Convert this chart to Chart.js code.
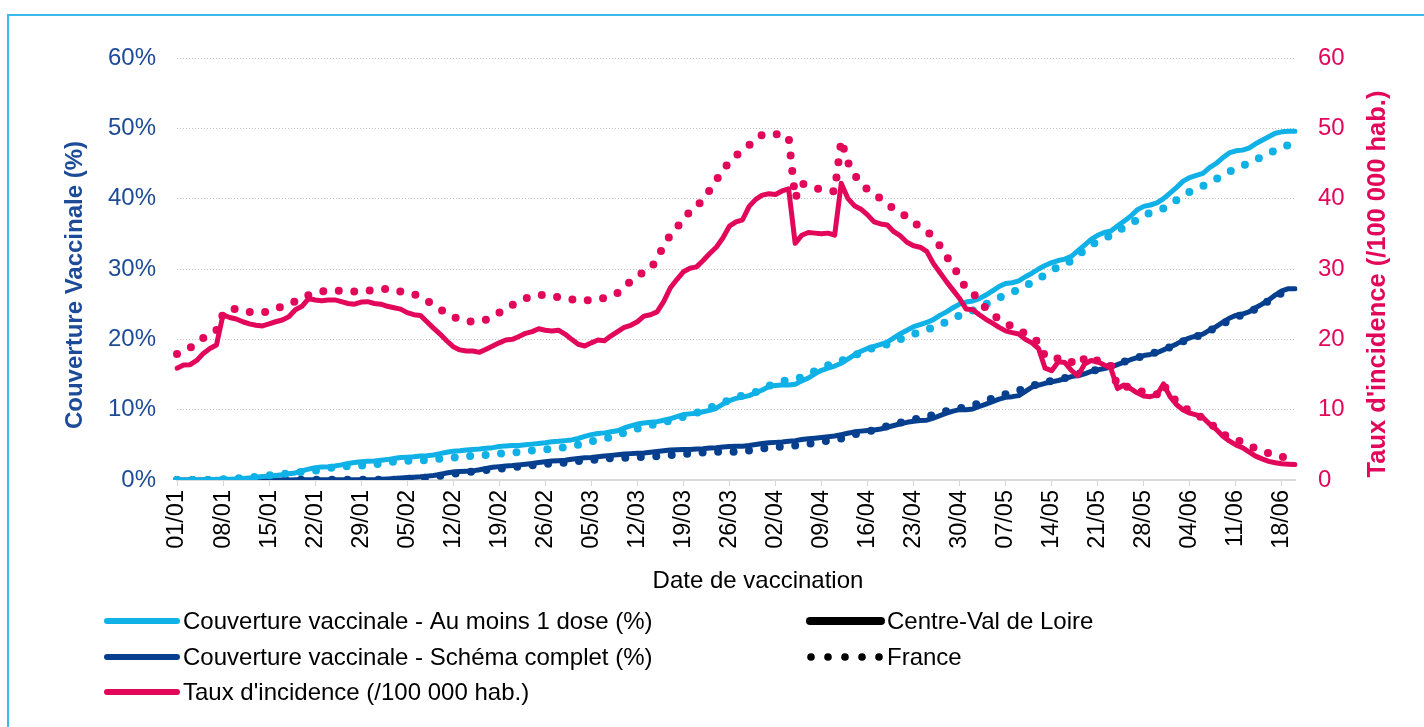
<!DOCTYPE html>
<html><head><meta charset="utf-8">
<script src="https://cdn.jsdelivr.net/npm/chart.js@4.4.1/dist/chart.umd.min.js"></script>
<style>
html,body{margin:0;padding:0;background:#fff;width:1424px;height:727px;overflow:hidden;}
#frame{position:absolute;left:7px;top:14px;width:1440px;height:800px;border:2px solid #3cb9ec;box-sizing:border-box;}
#wrap{position:absolute;left:0;top:0;width:1424px;height:727px;}
</style></head><body>
<div id="frame"></div>
<div id="wrap"><canvas id="c"></canvas></div>
<script>
// ---- categories: daily dates from 01/01 to 20/06 ----
const dates = [];
for (let i = 0; i < 171; i++) {
  const d = new Date(2021, 0, 1 + i);
  dates.push(String(d.getDate()).padStart(2, '0') + '/' + String(d.getMonth() + 1).padStart(2, '0'));
}
const tickEvery = 7;

// ---- Taux d'incidence (/100 000 hab.) ----
const incidenceCVL = [
15.9,16.35,16.4,17.0,18.0,18.7,19.2,23.5,23.1,22.9,
22.5,22.2,22.0,21.9,22.2,22.5,22.75,23.2,24.2,24.7,
25.8,25.6,25.5,25.6,25.6,25.35,25.1,25.0,25.3,25.35,
25.1,25.0,24.7,24.5,24.3,23.8,23.5,23.4,22.5,21.6,
20.75,19.8,18.95,18.5,18.35,18.35,18.15,18.6,19.05,19.5,
19.9,20.0,20.4,20.85,21.1,21.5,21.3,21.2,21.3,20.75,
20.0,19.3,19.05,19.5,19.9,19.8,20.5,21.1,21.7,22.0,
22.5,23.3,23.5,23.9,25.35,27.3,28.5,29.6,30.1,30.3,
31.2,32.2,33.1,34.4,36.1,36.7,37.0,38.9,39.9,40.5,
40.7,40.6,41.1,41.4,33.65,34.8,35.2,35.1,35.0,35.1,
34.8,42.2,40.05,39.0,38.5,37.7,36.7,36.4,36.25,35.3,
34.7,33.8,33.3,33.1,32.5,30.8,29.5,28.2,27.0,25.8,
24.3,24.2,23.5,22.85,22.3,21.7,21.2,20.95,20.75,20.0,
19.5,18.7,15.9,15.55,16.8,16.7,15.6,14.8,16.5,17.0,
16.8,16.35,15.9,13.0,13.5,13.0,12.4,11.95,11.85,12.1,
13.65,11.85,10.7,9.95,9.5,9.25,8.9,7.95,7.2,6.25,
5.55,5.0,4.6,4.0,3.4,3.0,2.65,2.45,2.3,2.25,
2.2];
const incidenceFR = [
17.9,18.3,18.8,19.4,20.2,20.8,21.3,23.6,24.4,24.3,
24.0,23.9,23.8,23.8,24.0,24.3,24.7,25.0,25.4,25.8,
26.3,26.6,26.8,26.9,26.9,26.9,26.8,26.8,26.8,26.9,
27.0,27.1,27.2,27.0,26.8,26.6,26.4,26.1,25.5,24.9,
24.3,23.7,23.2,22.8,22.6,22.5,22.6,22.8,23.2,23.8,
24.5,24.9,25.3,25.8,26.2,26.3,26.3,26.1,26.0,25.9,
25.7,25.5,25.5,25.6,25.7,25.9,26.1,26.6,27.4,28.3,
29.0,29.6,30.0,31.5,33.3,34.8,35.9,37.0,38.2,38.8,
40.0,41.2,42.6,44.1,45.2,46.1,47.0,47.6,48.5,49.1,
49.3,49.2,49.0,48.8,40.0,42.2,41.8,41.5,41.3,41.2,
41.0,48.3,45.2,43.4,42.2,41.3,40.7,40.0,39.2,38.6,
38.0,37.4,36.6,36.0,35.4,34.5,33.3,31.8,30.5,28.8,
27.2,26.6,25.5,24.4,23.6,22.8,22.3,21.8,21.3,20.8,
20.2,19.6,17.6,17.2,17.3,17.4,16.8,16.3,17.3,17.6,
16.9,16.5,16.3,13.3,13.3,13.2,12.8,12.5,12.3,12.2,
13.6,12.0,11.2,10.4,9.8,9.3,8.8,8.1,7.4,6.6,
6.0,5.7,5.4,4.9,4.5,4.2,3.8,3.5,3.3,3.2];

// ---- Couverture vaccinale - Au moins 1 dose (%) ----
const dose1CVL = [
0,0,0,0,0.05,0.05,0.1,0.1,0.1,0.15,
0.2,0.3,0.4,0.5,0.55,0.65,0.75,0.9,1.0,1.3,
1.55,1.75,1.85,1.9,2.0,2.15,2.35,2.5,2.6,2.65,
2.7,2.8,2.9,3.05,3.2,3.25,3.3,3.4,3.45,3.55,
3.75,3.95,4.1,4.15,4.25,4.35,4.4,4.5,4.6,4.75,
4.85,4.9,4.9,5.0,5.1,5.2,5.3,5.45,5.5,5.6,
5.7,5.9,6.2,6.45,6.6,6.7,6.85,7.0,7.4,7.7,
7.95,8.1,8.2,8.3,8.5,8.7,9.0,9.3,9.4,9.5,
9.7,9.9,10.2,10.8,11.3,11.6,11.8,12.0,12.4,12.8,
13.3,13.45,13.5,13.5,13.6,14.1,14.5,15.1,15.6,15.9,
16.2,16.6,17.2,17.8,18.3,18.7,19.0,19.3,19.6,20.2,
20.8,21.3,21.8,22.1,22.4,22.8,23.4,23.9,24.5,25.0,
25.3,25.45,25.8,26.3,26.9,27.5,27.95,28.05,28.3,28.9,
29.4,30.0,30.5,30.9,31.2,31.4,31.8,32.6,33.4,34.2,
34.8,35.2,35.4,36.1,36.8,37.5,38.4,38.9,39.1,39.4,
40.0,40.8,41.6,42.5,43.0,43.3,43.6,44.4,45.0,45.8,
46.5,46.8,46.9,47.2,47.8,48.3,48.8,49.3,49.5,49.6,
49.6];
const dose1FR = [
0,0,0,0,0,0,0.05,0.1,0.15,0.2,
0.3,0.35,0.45,0.55,0.65,0.75,0.85,0.95,1.05,1.15,
1.25,1.35,1.45,1.65,1.85,1.9,1.95,2.0,2.05,2.1,
2.2,2.35,2.5,2.6,2.7,2.75,2.75,2.75,2.85,2.95,
3.05,3.1,3.2,3.25,3.35,3.45,3.5,3.55,3.65,3.75,
3.85,3.9,4.0,4.1,4.2,4.25,4.35,4.45,4.55,4.65,
4.85,5.0,5.25,5.5,5.7,5.9,6.1,6.4,6.7,6.95,
7.3,7.65,7.8,7.95,8.2,8.45,8.75,9.0,9.25,9.55,
9.9,10.25,10.6,11.0,11.35,11.75,12.0,12.25,12.5,13.0,
13.4,13.7,14.05,14.25,14.4,14.6,15.0,15.5,15.9,16.3,
16.6,16.95,17.3,17.7,18.1,18.5,18.85,19.05,19.3,19.6,
20.0,20.4,20.75,21.1,21.4,21.7,22.1,22.5,23.0,23.4,
23.7,24.1,24.5,25.0,25.45,25.9,26.35,26.7,27.1,27.6,
28.1,28.6,29.2,29.8,30.3,30.6,31.2,31.9,32.7,33.4,
33.9,34.3,34.8,35.4,35.9,36.4,37.0,37.6,38.0,38.3,
38.6,39.2,39.8,40.4,41.0,41.5,41.8,42.3,42.8,43.2,
43.8,44.3,44.7,45.0,45.5,46.0,46.4,46.9,47.3,47.6];

// ---- Couverture vaccinale - Schéma complet (%) ----
const dose2CVL = [
0,0,0,0,0,0,0,0,0,0,
0,0,0,0,0,0,0,0,0.05,0.05,
0.05,0.05,0.05,0.05,0.05,0.05,0.05,0.05,0.05,0.05,
0.05,0.1,0.15,0.2,0.3,0.35,0.4,0.45,0.55,0.65,
0.8,1.0,1.15,1.2,1.25,1.3,1.45,1.65,1.8,1.9,
2.0,2.05,2.15,2.25,2.35,2.5,2.6,2.7,2.75,2.8,
2.95,3.05,3.15,3.2,3.3,3.4,3.5,3.6,3.7,3.75,
3.8,3.85,3.95,4.05,4.15,4.25,4.3,4.35,4.35,4.4,
4.45,4.55,4.6,4.7,4.75,4.8,4.8,4.9,5.05,5.2,
5.3,5.35,5.4,5.5,5.6,5.75,5.85,5.95,6.05,6.15,
6.25,6.45,6.65,6.85,6.95,7.05,7.1,7.25,7.5,7.75,
8.0,8.2,8.35,8.45,8.5,8.8,9.15,9.5,9.8,10.0,
10.0,10.1,10.45,10.8,11.15,11.5,11.75,11.85,12.0,12.6,
13.2,13.5,13.75,13.95,14.15,14.4,14.7,14.85,15.1,15.45,
15.65,15.85,16.05,16.4,16.75,17.1,17.4,17.7,17.85,18.1,
18.5,18.9,19.35,19.85,20.2,20.5,20.75,21.3,21.8,22.4,
23.0,23.4,23.6,23.9,24.5,25.0,25.6,26.3,26.9,27.2,
27.2];
const dose2FR = [
0,0,0,0,0,0,0,0,0,0,
0,0,0,0,0,0,0,0,0.05,0.05,
0.05,0.05,0.05,0.05,0.05,0.05,0.05,0.05,0.05,0.05,
0.05,0.05,0.05,0.05,0.1,0.15,0.2,0.25,0.35,0.5,
0.6,0.75,0.9,1.0,1.1,1.2,1.3,1.4,1.5,1.6,
1.7,1.8,1.9,2.0,2.1,2.15,2.25,2.35,2.4,2.45,
2.6,2.7,2.8,2.85,2.9,3.0,3.1,3.15,3.15,3.2,
3.25,3.3,3.35,3.4,3.45,3.55,3.6,3.7,3.75,3.8,
3.9,3.95,4.0,4.0,4.0,4.0,4.05,4.2,4.35,4.5,
4.6,4.7,4.75,4.8,4.9,5.0,5.15,5.3,5.45,5.6,
5.75,5.9,6.2,6.5,6.7,6.9,7.1,7.35,7.65,7.85,
8.15,8.4,8.6,8.8,9.0,9.25,9.55,9.8,10.05,10.2,
10.35,10.6,10.9,11.25,11.6,12.0,12.2,12.35,12.7,13.1,
13.4,13.6,13.9,14.1,14.3,14.5,14.8,15.1,15.3,15.5,
15.7,15.95,16.2,16.5,16.8,17.1,17.4,17.65,17.9,18.2,
18.55,18.9,19.3,19.7,20.1,20.4,20.75,21.2,21.7,22.2,
22.7,23.1,23.5,23.9,24.3,24.9,25.5,26.1,26.6,26.9];

// ---- axis tick values ----
const leftTicks = [0, 10, 20, 30, 40, 50, 60];   // shown as %
const rightTicks = [0, 10, 20, 30, 40, 50, 60];

// ---- texts ----
const xTitle = 'Date de vaccination';
const yTitle = 'Couverture Vaccinale (%)';
const y1Title = "Taux d'incidence (/100 000 hab.)";
const seriesNames = ['Couverture vaccinale - Au moins 1 dose (%)', 'Couverture vaccinale - Schéma complet (%)', "Taux d'incidence (/100 000 hab.)"];
const zoneNames = ['Centre-Val de Loire', 'France'];

const C_LIGHT = '#0fb1e6';
const C_DARK = '#073f8f';
const C_PINK = '#e2075a';
const C_AXISBLUE = '#1d4b97';
const FONT = "'Liberation Sans', Arial, Helvetica, sans-serif";

Chart.defaults.font.family = FONT;

function solid(label, data, color, axis) {
  return { label, data, yAxisID: axis, borderColor: color, backgroundColor: color,
    borderWidth: 5, pointRadius: 0, pointHoverRadius: 0, tension: 0,
    borderCapStyle: 'round', borderJoinStyle: 'round', fill: false };
}
function dotted(label, data, color, axis) {
  return { label, data, yAxisID: axis, borderColor: color, backgroundColor: color,
    borderWidth: 8, pointRadius: 0, pointHoverRadius: 0, tension: 0,
    borderDash: [0, 15.5], borderCapStyle: 'round', borderJoinStyle: 'round', fill: false };
}

const overlay = {
  id: 'overlay',
  afterDraw(chart) {
    const ctx = chart.ctx;
    const a = chart.chartArea;
    const midY = (a.top + a.bottom) / 2 + 16;
    ctx.save();
    ctx.textAlign = 'center';
    ctx.textBaseline = 'middle';
    // left title
    ctx.font = 'bold 24px ' + FONT;
    ctx.save();
    ctx.translate(a.left - 102, midY);
    ctx.rotate(-Math.PI / 2);
    ctx.fillStyle = C_AXISBLUE;
    ctx.fillText(yTitle, 0, 0);
    ctx.restore();
    // right title
    ctx.font = 'bold 25.5px ' + FONT;
    ctx.save();
    ctx.translate(a.right + 83, midY - 1);
    ctx.rotate(-Math.PI / 2);
    ctx.fillStyle = C_PINK;
    ctx.fillText(y1Title, 0, 0);
    ctx.restore();
    // x title
    ctx.font = '24px ' + FONT;
    ctx.fillStyle = '#000';
    ctx.fillText(xTitle, 758, a.bottom + 101);

    // legend
    const rows = [621, 657, 692];
    const colors = [C_LIGHT, C_DARK, C_PINK];
    ctx.textAlign = 'left';
    ctx.lineCap = 'round';
    for (let i = 0; i < 3; i++) {
      ctx.strokeStyle = colors[i];
      ctx.lineWidth = 6;
      ctx.beginPath(); ctx.moveTo(107, rows[i]); ctx.lineTo(177, rows[i]); ctx.stroke();
      ctx.fillStyle = '#000';
      ctx.fillText(seriesNames[i], 183, rows[i] + 1);
    }
    ctx.strokeStyle = '#000';
    ctx.lineWidth = 8;
    ctx.beginPath(); ctx.moveTo(810, rows[0]); ctx.lineTo(881, rows[0]); ctx.stroke();
    ctx.fillText(zoneNames[0], 887, rows[0] + 1);
    ctx.fillStyle = '#000';
    for (let k = 0; k < 5; k++) {
      ctx.beginPath(); ctx.arc(811 + k * 17, rows[1], 3.8, 0, Math.PI * 2); ctx.fill();
    }
    ctx.fillText(zoneNames[1], 887, rows[1] + 1);
    ctx.restore();
  }
};

new Chart(document.getElementById('c'), {
  type: 'line',
  data: {
    labels: dates,
    datasets: [
      solid("Taux d'incidence - Centre-Val de Loire", incidenceCVL, C_PINK, 'y1'),
      dotted("Taux d'incidence - France", incidenceFR, C_PINK, 'y1'),
      solid('Au moins 1 dose - Centre-Val de Loire', dose1CVL, C_LIGHT, 'y'),
      dotted('Au moins 1 dose - France', dose1FR, C_LIGHT, 'y'),
      solid('Schéma complet - Centre-Val de Loire', dose2CVL, C_DARK, 'y'),
      dotted('Schéma complet - France', dose2FR, C_DARK, 'y')
    ]
  },
  options: {
    responsive: true,
    maintainAspectRatio: false,
    animation: false,
    events: [],
    layout: { padding: { left: 57, right: 28, top: 58, bottom: 127 } },
    plugins: { legend: { display: false }, tooltip: { enabled: false } },
    scales: {
      x: {
        type: 'category',
        offset: false,
        afterFit(s) { s.height = 120; },
        grid: {
          drawOnChartArea: false, drawTicks: true, tickLength: 6,
          color: '#d4d4d4', lineWidth: 1
        },
        border: { display: true, color: '#d9d9d9', width: 2 },
        ticks: {
          autoSkip: false, maxRotation: 90, minRotation: 90, padding: 4,
          color: '#000', font: { size: 23.5 },
          callback(v, i) { return i % tickEvery === 0 ? dates[i] : null; }
        }
      },
      y: {
        position: 'left', min: 0, max: 60,
        afterFit(s) { s.width = 120; },
        afterBuildTicks(s) { s.ticks = leftTicks.map(v => ({ value: v })); },
        grid: { color: '#c4c4c4', lineWidth: 1, drawTicks: false },
        border: { display: false, dash: [1, 2] },
        ticks: { color: C_AXISBLUE, padding: 21, font: { size: 24 }, callback: v => v + '%' }
      },
      y1: {
        position: 'right', min: 0, max: 60,
        afterFit(s) { s.width = 101; },
        afterBuildTicks(s) { s.ticks = rightTicks.map(v => ({ value: v })); },
        grid: { display: false, drawTicks: false },
        border: { display: false },
        ticks: { color: C_PINK, padding: 23, font: { size: 24 } }
      }
    }
  },
  plugins: [overlay]
});
</script>
</body></html>
